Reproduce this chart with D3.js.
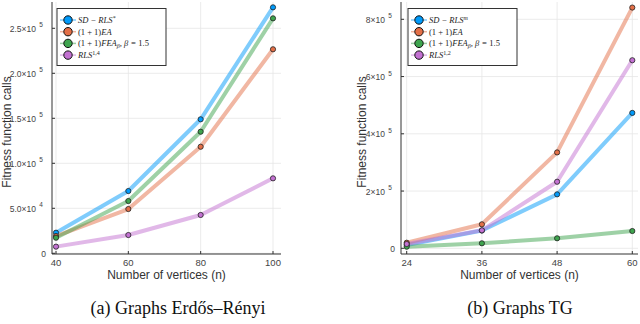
<!DOCTYPE html>
<html>
<head>
<meta charset="utf-8">
<script src="https://cdn.jsdelivr.net/npm/d3@7"></script>
<style>
  body { margin: 0; background: #fff; }
  svg { display: block; }
</style>
</head>
<body>
<svg id="chart" width="640" height="324"></svg>
<script>
// Dados - painel (a) Erdős–Rényi
const verticesER = [40, 60, 80, 100];
const sdRlsER = [22900, 69200, 148900, 273300];
const eaER = [19200, 49200, 118400, 226700];
const feaER = [17300, 58100, 135100, 261100];
const rlsER = [7400, 20300, 42600, 83300];
const yTicksER = [0, 50000, 100000, 150000, 200000, 250000];
const yLabelsER = ["0", "5.0×10", "1.0×10", "1.5×10", "2.0×10", "2.5×10"];
const yExpER = ["", "4", "5", "5", "5", "5"];

// Dados - painel (b) TG
const verticesTG = [24, 36, 48, 60];
const sdRlsTG = [11500, 62000, 188500, 473000];
const eaTG = [19500, 83800, 335000, 841000];
const feaTG = [5600, 17500, 35000, 60400];
const rlsTG = [15000, 62800, 232500, 657000];
const yTicksTG = [0, 200000, 400000, 600000, 800000];
const yLabelsTG = ["0", "2×10", "4×10", "6×10", "8×10"];
const yExpTG = ["", "5", "5", "5", "5"];

const colors = ["#009AFA", "#E36F47", "#3EA44E", "#C371D2"];

const svg = d3.select("#chart");
const tickFont = "'Liberation Sans', Arial, sans-serif";
const mathFont = "'Liberation Serif', 'DejaVu Serif', serif";

// desenha um painel
const painel = (cfg) => {
    const g = svg.append("g");
    const x = d3.scaleLinear().domain(cfg.xDomain).range(cfg.xRange);
    const y = d3.scaleLinear().domain(cfg.yDomain).range(cfg.yRange);

    // grade
    g.append("g").selectAll("line")
        .data(cfg.xTicks).enter().append("line")
        .attr("x1", d => x(d)).attr("x2", d => x(d))
        .attr("y1", cfg.top).attr("y2", cfg.bottom)
        .attr("stroke", "#e6e6e6").attr("stroke-width", 0.8);
    g.append("g").selectAll("line")
        .data(cfg.yTicks).enter().append("line")
        .attr("x1", cfg.left).attr("x2", cfg.right)
        .attr("y1", d => y(d)).attr("y2", d => y(d))
        .attr("stroke", "#e6e6e6").attr("stroke-width", 0.8);

    // eixos
    g.append("line")
        .attr("x1", cfg.left).attr("x2", cfg.left)
        .attr("y1", cfg.top).attr("y2", cfg.bottom)
        .attr("stroke", "#333").attr("stroke-width", 1);
    g.append("line")
        .attr("x1", cfg.left).attr("x2", cfg.right)
        .attr("y1", cfg.bottom).attr("y2", cfg.bottom)
        .attr("stroke", "#333").attr("stroke-width", 1);

    // marcas dos ticks
    g.append("g").selectAll("line")
        .data(cfg.yTicks).enter().append("line")
        .attr("x1", cfg.left).attr("x2", cfg.left + 3)
        .attr("y1", d => y(d)).attr("y2", d => y(d))
        .attr("stroke", "#333");
    g.append("g").selectAll("line")
        .data(cfg.xTicks).enter().append("line")
        .attr("x1", d => x(d)).attr("x2", d => x(d))
        .attr("y1", cfg.bottom).attr("y2", cfg.bottom - 3)
        .attr("stroke", "#333");

    // rótulos dos ticks
    g.append("g").selectAll("text")
        .data(cfg.xTicks).enter().append("text")
        .attr("x", d => x(d)).attr("y", cfg.bottom + 12)
        .attr("text-anchor", "middle")
        .attr("font-family", tickFont).attr("font-size", 9.5)
        .attr("fill", "#444")
        .text(d => d);

    const yl = g.append("g").selectAll("g")
        .data(cfg.yTicks).enter().append("g");
    yl.append("text")
        .attr("x", (d, i) => cfg.yExp[i] ? cfg.left - 16 : cfg.left - 6)
        .attr("y", d => y(d) + 3.5)
        .attr("text-anchor", "end")
        .attr("font-family", tickFont).attr("font-size", 8.5)
        .attr("fill", "#444")
        .text((d, i) => cfg.yLabels[i]);
    yl.append("text")
        .attr("x", cfg.left - 11)
        .attr("y", d => y(d) - 1)
        .attr("text-anchor", "middle")
        .attr("font-family", tickFont).attr("font-size", 6.5)
        .attr("fill", "#444")
        .text((d, i) => cfg.yExp[i]);

    // títulos
    g.append("text")
        .attr("x", (cfg.left + cfg.right) / 2).attr("y", cfg.bottom + 25)
        .attr("text-anchor", "middle")
        .attr("font-family", tickFont).attr("font-size", 12)
        .attr("fill", "#333")
        .text("Number of vertices (n)");
    g.append("text")
        .attr("transform", `translate(${cfg.yTitleX},${cfg.yTitleY}) rotate(-90)`)
        .attr("text-anchor", "middle")
        .attr("font-family", tickFont).attr("font-size", 12)
        .attr("fill", "#333")
        .text("Fitness function calls");

    // séries
    const line = d3.line()
        .x((d, i) => x(cfg.xs[i]))
        .y(d => y(d));
    cfg.series.forEach((s, k) => {
        g.append("path")
            .datum(s)
            .attr("d", line)
            .attr("fill", "none")
            .attr("stroke", colors[k])
            .attr("stroke-opacity", 0.5)
            .attr("stroke-width", 4)
            .attr("stroke-linejoin", "round");
    });
    cfg.series.forEach((s, k) => {
        g.append("g").selectAll("circle")
            .data(s).enter().append("circle")
            .attr("cx", (d, i) => x(cfg.xs[i]))
            .attr("cy", d => y(d))
            .attr("r", 2.6)
            .attr("fill", colors[k])
            .attr("stroke", "#222")
            .attr("stroke-width", 0.8);
    });

    // legenda
    const lg = g.append("g");
    lg.append("rect")
        .attr("x", cfg.legX).attr("y", 8.5)
        .attr("width", 109).attr("height", 57)
        .attr("fill", "#fff")
        .attr("stroke", "#333").attr("stroke-width", 1);
    cfg.legend.forEach((lab, k) => {
        const ly = 20 + k * 11.7;
        lg.append("line")
            .attr("x1", cfg.legX + 3).attr("x2", cfg.legX + 19)
            .attr("y1", ly).attr("y2", ly)
            .attr("stroke", colors[k]).attr("stroke-opacity", 0.5)
            .attr("stroke-width", 1.5);
        lg.append("circle")
            .attr("cx", cfg.legX + 11).attr("cy", ly)
            .attr("r", 4.2)
            .attr("fill", colors[k])
            .attr("stroke", "#111").attr("stroke-width", 1);
        lg.append("text")
            .attr("x", cfg.legX + 21).attr("y", ly + 3)
            .attr("font-family", mathFont).attr("font-size", 8.5)
            .attr("font-style", "italic")
            .attr("fill", "#222")
            .html(lab);
    });
};

painel({
    xDomain: [40, 100], xRange: [56, 273],
    yDomain: [0, 250000], yRange: [253.3, 28.3],
    left: 52, right: 281, top: 2, bottom: 254,
    xTicks: verticesER, xs: verticesER,
    yTicks: yTicksER, yLabels: yLabelsER, yExp: yExpER,
    series: [sdRlsER, eaER, feaER, rlsER],
    yTitleX: 11, yTitleY: 132,
    legX: 57,
    legend: [
        "SD − RLS<tspan dy='-3' font-size='6'>*</tspan>",
        "<tspan font-style='normal'>(1 + 1)</tspan>EA",
        "<tspan font-style='normal'>(1 + 1)</tspan>FEA<tspan dy='2' font-size='6'>β</tspan><tspan dy='-2'>, β = </tspan><tspan font-style='normal'>1.5</tspan>",
        "RLS<tspan dy='-3' font-size='6' font-style='normal'>1,4</tspan>"
    ]
});

painel({
    xDomain: [24, 60], xRange: [406.7, 632.3],
    yDomain: [0, 800000], yRange: [248.3, 19.3],
    left: 401, right: 638, top: 2, bottom: 254,
    xTicks: verticesTG, xs: verticesTG,
    yTicks: yTicksTG, yLabels: yLabelsTG, yExp: yExpTG,
    series: [sdRlsTG, eaTG, feaTG, rlsTG],
    yTitleX: 366, yTitleY: 132,
    legX: 408,
    legend: [
        "SD − RLS<tspan dy='-3' font-size='6'>m</tspan>",
        "<tspan font-style='normal'>(1 + 1)</tspan>EA",
        "<tspan font-style='normal'>(1 + 1)</tspan>FEA<tspan dy='2' font-size='6'>β</tspan><tspan dy='-2'>, β = </tspan><tspan font-style='normal'>1.5</tspan>",
        "RLS<tspan dy='-3' font-size='6' font-style='normal'>1,2</tspan>"
    ]
});

// legendas das figuras
svg.append("text")
    .attr("x", 178).attr("y", 314)
    .attr("text-anchor", "middle")
    .attr("font-family", mathFont).attr("font-size", 18)
    .attr("fill", "#111")
    .text("(a) Graphs Erdős–Rényi");
svg.append("text")
    .attr("x", 520).attr("y", 314)
    .attr("text-anchor", "middle")
    .attr("font-family", mathFont).attr("font-size", 18)
    .attr("fill", "#111")
    .text("(b) Graphs TG");
</script>
</body>
</html>
